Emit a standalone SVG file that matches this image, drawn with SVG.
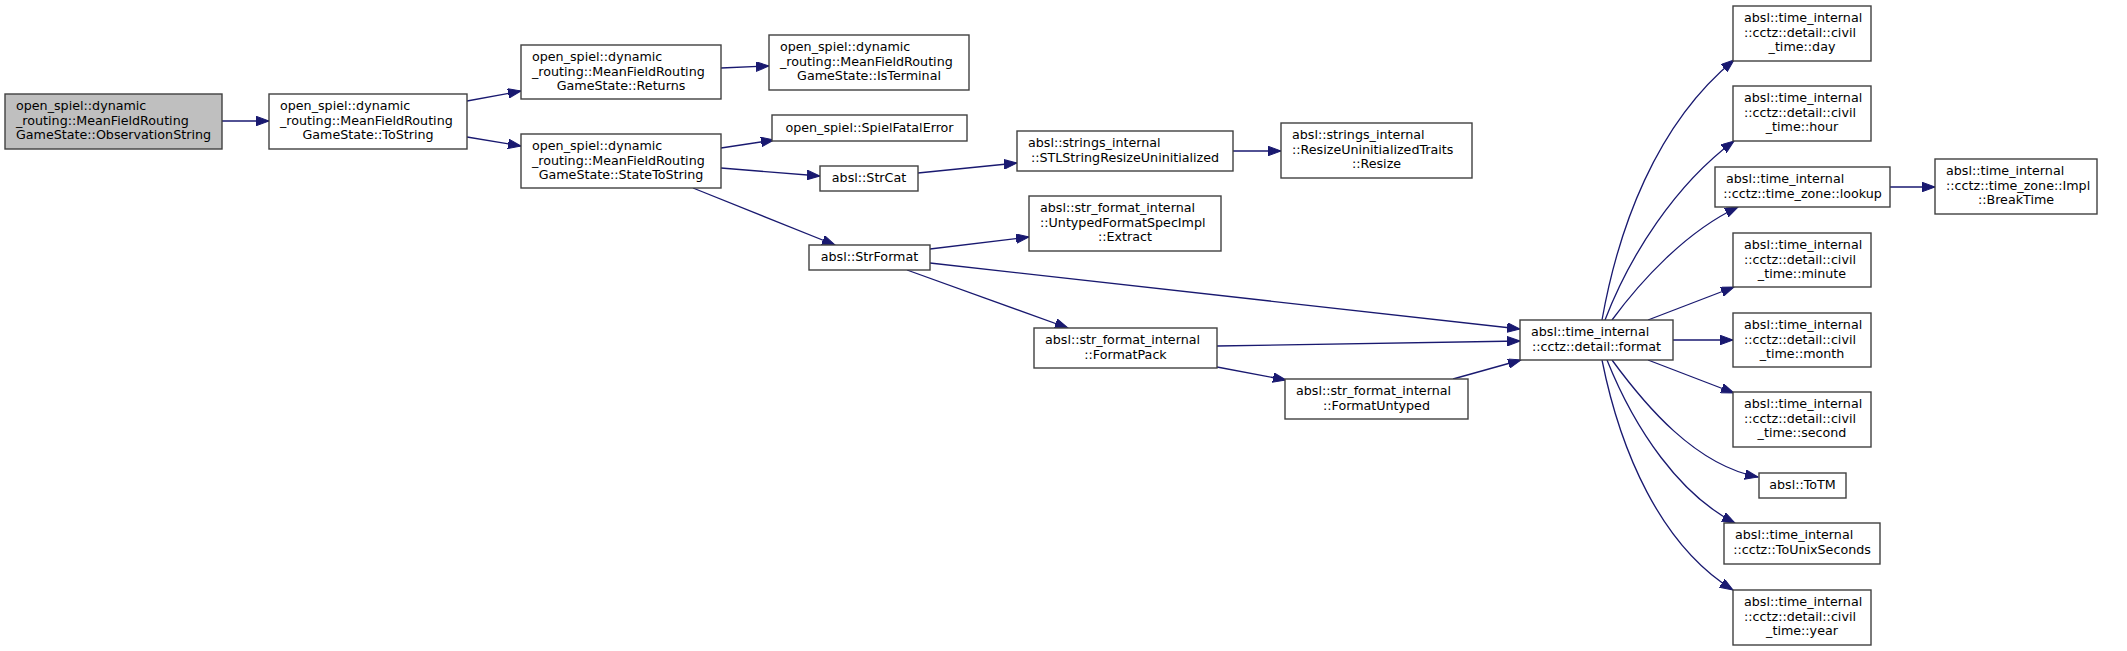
<svg xmlns="http://www.w3.org/2000/svg" width="2127" height="651" viewBox="0 0 2127 651">
<style>
.n rect{fill:#ffffff;stroke:#404040;stroke-width:1.4}
.n.root rect{fill:#bfbfbf}
.n text{font-family:"DejaVu Sans","Liberation Sans",sans-serif;font-size:12.7px;fill:#000000}
.n text.m{text-anchor:middle}
.e path{fill:none;stroke:#191970;stroke-width:1.3;marker-end:url(#ah)}
</style>
<defs>
<marker id="ah" markerUnits="userSpaceOnUse" markerWidth="14" markerHeight="10" refX="13" refY="4.8" orient="auto">
<path d="M0,0 L13,4.8 L0,9.6 z" fill="#191970" stroke="#191970" stroke-width="1"/>
</marker>
</defs>
<rect width="2127" height="651" fill="#ffffff"/>
<g id="edges" class="e">
<path d="M222,121 L269,121"/>
<path d="M467,101 L521,91"/>
<path d="M467,137 L521,146"/>
<path d="M721,68 L769,66"/>
<path d="M721,148 L774,140"/>
<path d="M721,168 L820,176"/>
<path d="M693,188 L835,245"/>
<path d="M918,173 L1017,163"/>
<path d="M1233,151 L1281,151"/>
<path d="M930,249 L1029,237"/>
<path d="M930,263 L1520,329"/>
<path d="M907,270 L1068,328"/>
<path d="M1217,346 L1520,341"/>
<path d="M1217,367 L1286,380"/>
<path d="M1453,379 L1521,360"/>
<path d="M1602,320 C1618,230 1655,125 1734,60"/>
<path d="M1605,320 C1630,255 1675,185 1734,141"/>
<path d="M1612,320 C1640,282 1685,232 1738,207"/>
<path d="M1648,320 L1734,287"/>
<path d="M1673,340 L1733,340"/>
<path d="M1648,360 L1734,393"/>
<path d="M1612,360 C1645,405 1695,465 1758,477"/>
<path d="M1607,360 C1635,430 1680,495 1735,523"/>
<path d="M1602,360 C1620,450 1660,545 1733,590"/>
<path d="M1890,187 L1935,187"/>
</g>
<g id="node_observationstring" class="n root">
<rect x="5" y="94" width="217" height="55"/>
<text x="16" y="110">open_spiel::dynamic</text>
<text x="16" y="124.7">_routing::MeanFieldRouting</text>
<text class="m" x="113.5" y="139.4">GameState::ObservationString</text>
</g>
<g id="node_tostring" class="n">
<rect x="269" y="94" width="198" height="55"/>
<text x="280" y="110">open_spiel::dynamic</text>
<text x="280" y="124.7">_routing::MeanFieldRouting</text>
<text class="m" x="368" y="139.4">GameState::ToString</text>
</g>
<g id="node_returns" class="n">
<rect x="521" y="45" width="200" height="54"/>
<text x="532" y="61">open_spiel::dynamic</text>
<text x="532" y="75.7">_routing::MeanFieldRouting</text>
<text class="m" x="621" y="90.4">GameState::Returns</text>
</g>
<g id="node_isterminal" class="n">
<rect x="769" y="35" width="200" height="55"/>
<text x="780" y="51">open_spiel::dynamic</text>
<text x="780" y="65.7">_routing::MeanFieldRouting</text>
<text class="m" x="869" y="80.4">GameState::IsTerminal</text>
</g>
<g id="node_spielfatalerror" class="n">
<rect x="772" y="115" width="195" height="26"/>
<text class="m" x="869.5" y="131.5">open_spiel::SpielFatalError</text>
</g>
<g id="node_statetostring" class="n">
<rect x="521" y="134" width="200" height="54"/>
<text x="532" y="150">open_spiel::dynamic</text>
<text x="532" y="164.7">_routing::MeanFieldRouting</text>
<text class="m" x="621" y="179.4">GameState::StateToString</text>
</g>
<g id="node_strcat" class="n">
<rect x="820" y="166" width="98" height="25"/>
<text class="m" x="869" y="182">absl::StrCat</text>
</g>
<g id="node_stlstringresize" class="n">
<rect x="1017" y="131" width="216" height="40"/>
<text x="1028" y="147">absl::strings_internal</text>
<text class="m" x="1125" y="161.7">::STLStringResizeUninitialized</text>
</g>
<g id="node_resize" class="n">
<rect x="1281" y="123" width="191" height="55"/>
<text x="1292" y="139">absl::strings_internal</text>
<text x="1292" y="153.7">::ResizeUninitializedTraits</text>
<text class="m" x="1376.5" y="168.4">::Resize</text>
</g>
<g id="node_strformat" class="n">
<rect x="809" y="245" width="121" height="25"/>
<text class="m" x="869.5" y="261">absl::StrFormat</text>
</g>
<g id="node_extract" class="n">
<rect x="1029" y="196" width="192" height="55"/>
<text x="1040" y="212">absl::str_format_internal</text>
<text x="1040" y="226.7">::UntypedFormatSpecImpl</text>
<text class="m" x="1125" y="241.4">::Extract</text>
</g>
<g id="node_formatpack" class="n">
<rect x="1034" y="328" width="183" height="40"/>
<text x="1045" y="344">absl::str_format_internal</text>
<text class="m" x="1125.5" y="358.7">::FormatPack</text>
</g>
<g id="node_formatuntyped" class="n">
<rect x="1285" y="379" width="183" height="40"/>
<text x="1296" y="395">absl::str_format_internal</text>
<text class="m" x="1376.5" y="409.7">::FormatUntyped</text>
</g>
<g id="node_format" class="n">
<rect x="1520" y="320" width="153" height="40"/>
<text x="1531" y="336">absl::time_internal</text>
<text class="m" x="1596.5" y="350.7">::cctz::detail::format</text>
</g>
<g id="node_day" class="n">
<rect x="1733" y="6" width="138" height="55"/>
<text x="1744" y="22">absl::time_internal</text>
<text x="1744" y="36.7">::cctz::detail::civil</text>
<text class="m" x="1802" y="51.4">_time::day</text>
</g>
<g id="node_hour" class="n">
<rect x="1733" y="86" width="138" height="55"/>
<text x="1744" y="102">absl::time_internal</text>
<text x="1744" y="116.7">::cctz::detail::civil</text>
<text class="m" x="1802" y="131.4">_time::hour</text>
</g>
<g id="node_lookup" class="n">
<rect x="1715" y="167" width="175" height="40"/>
<text x="1726" y="183">absl::time_internal</text>
<text class="m" x="1802.5" y="197.7">::cctz::time_zone::lookup</text>
</g>
<g id="node_breaktime" class="n">
<rect x="1935" y="159" width="162" height="55"/>
<text x="1946" y="175">absl::time_internal</text>
<text x="1946" y="189.7">::cctz::time_zone::Impl</text>
<text class="m" x="2016" y="204.4">::BreakTime</text>
</g>
<g id="node_minute" class="n">
<rect x="1733" y="233" width="138" height="54"/>
<text x="1744" y="249">absl::time_internal</text>
<text x="1744" y="263.7">::cctz::detail::civil</text>
<text class="m" x="1802" y="278.4">_time::minute</text>
</g>
<g id="node_month" class="n">
<rect x="1733" y="313" width="138" height="54"/>
<text x="1744" y="329">absl::time_internal</text>
<text x="1744" y="343.7">::cctz::detail::civil</text>
<text class="m" x="1802" y="358.4">_time::month</text>
</g>
<g id="node_second" class="n">
<rect x="1733" y="392" width="138" height="55"/>
<text x="1744" y="408">absl::time_internal</text>
<text x="1744" y="422.7">::cctz::detail::civil</text>
<text class="m" x="1802" y="437.4">_time::second</text>
</g>
<g id="node_totm" class="n">
<rect x="1759" y="473" width="87" height="25"/>
<text class="m" x="1802.5" y="489">absl::ToTM</text>
</g>
<g id="node_tounixseconds" class="n">
<rect x="1724" y="523" width="156" height="41"/>
<text x="1735" y="539">absl::time_internal</text>
<text class="m" x="1802" y="553.7">::cctz::ToUnixSeconds</text>
</g>
<g id="node_year" class="n">
<rect x="1733" y="590" width="138" height="55"/>
<text x="1744" y="606">absl::time_internal</text>
<text x="1744" y="620.7">::cctz::detail::civil</text>
<text class="m" x="1802" y="635.4">_time::year</text>
</g>
</svg>
